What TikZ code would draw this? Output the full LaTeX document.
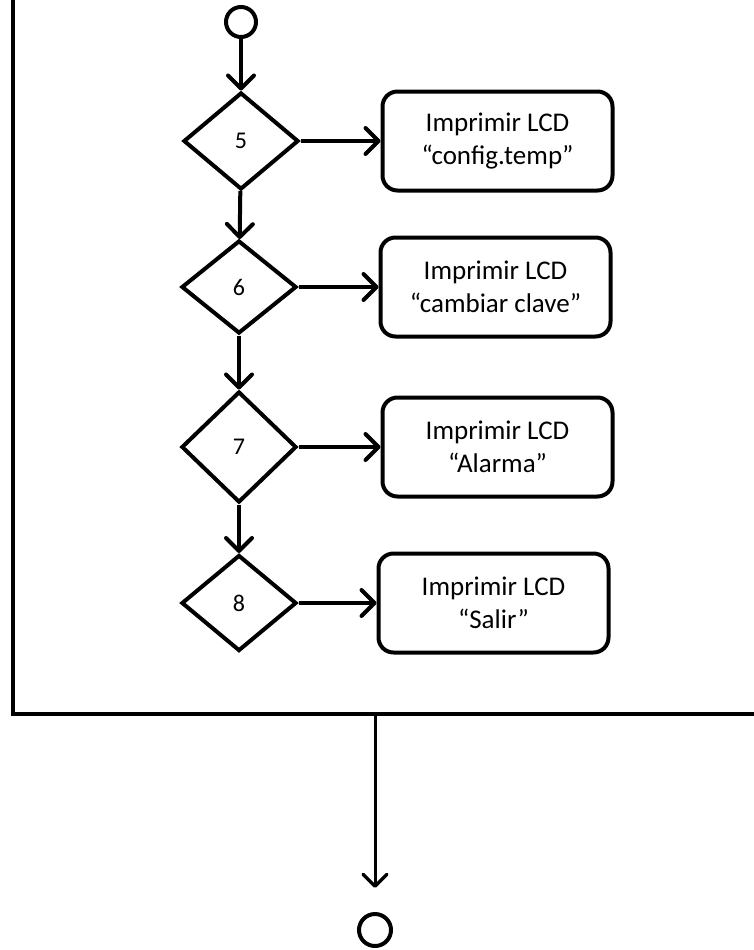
\documentclass[tikz,border=0pt]{standalone}
\usepackage{fontspec}
\setmainfont{Carlito}
\usetikzlibrary{shapes.geometric,arrows.meta,positioning}

\tikzset{
  decision/.style={diamond, draw, line width=4pt, inner sep=0pt,
    minimum width=115pt, font=\fontsize{24}{26}\selectfont},
  lcdbox/.style={draw, rounded corners=15pt, line width=4pt, minimum width=230pt,
    minimum height=99pt, align=center, font=\fontsize{27}{33}\selectfont},
  flow/.style={line width=4pt, -{Straight Barb[length=13pt,width=26pt,line width=4pt,round]}},
  connector/.style={circle, draw, line width=4pt, minimum size=30pt, inner sep=0pt}
}

\begin{document}
\begin{tikzpicture}[x=1pt, y=-1pt]
    \useasboundingbox (0,0) rectangle (754,950);

    % conector de entrada
    \node[connector] (ini) at (241,22) {};

    % decisiones
    \node[decision, minimum height=97pt] (d5) at (241,141) {5};
    \node[decision, minimum height=93pt] (d6) at (239,287) {6};
    \node[decision, minimum height=111pt] (d7) at (239,447) {7};
    \node[decision, minimum height=96pt] (d8) at (239,603) {8};

    % mensajes en el LCD
    \node[lcdbox, right=80pt of d5] (b5) {Imprimir LCD\\“config.temp”};
    \node[lcdbox, right=80pt of d6] (b6) {Imprimir LCD\\“cambiar clave”};
    \node[lcdbox, right=82pt of d7] (b7) {Imprimir LCD\\“Alarma”};
    \node[lcdbox, right=78pt of d8] (b8) {Imprimir LCD\\“Salir”};

    % flechas
    \draw[flow] (ini) -- (d5);
    \draw[flow] (d5) -- (d6);
    \draw[flow] (d6) -- (d7);
    \draw[flow] (d7) -- (d8);
    \draw[flow] (d5) -- (b5);
    \draw[flow] (d6) -- (b6);
    \draw[flow] (d7) -- (b7);
    \draw[flow] (d8) -- (b8);

    % marco
    \draw[line width=4pt] (13,0) -- (13,714) -- (754,714);

    % salida
    \coordinate (salida) at (375,714);
    \node[connector, minimum size=32pt] (fin) at (375,930) {};
    \draw[line width=3pt, -{Straight Barb[length=12pt,width=24pt,line width=3.5pt,round]}, shorten >=24pt] (salida) -- (fin);
\end{tikzpicture}
\end{document}
